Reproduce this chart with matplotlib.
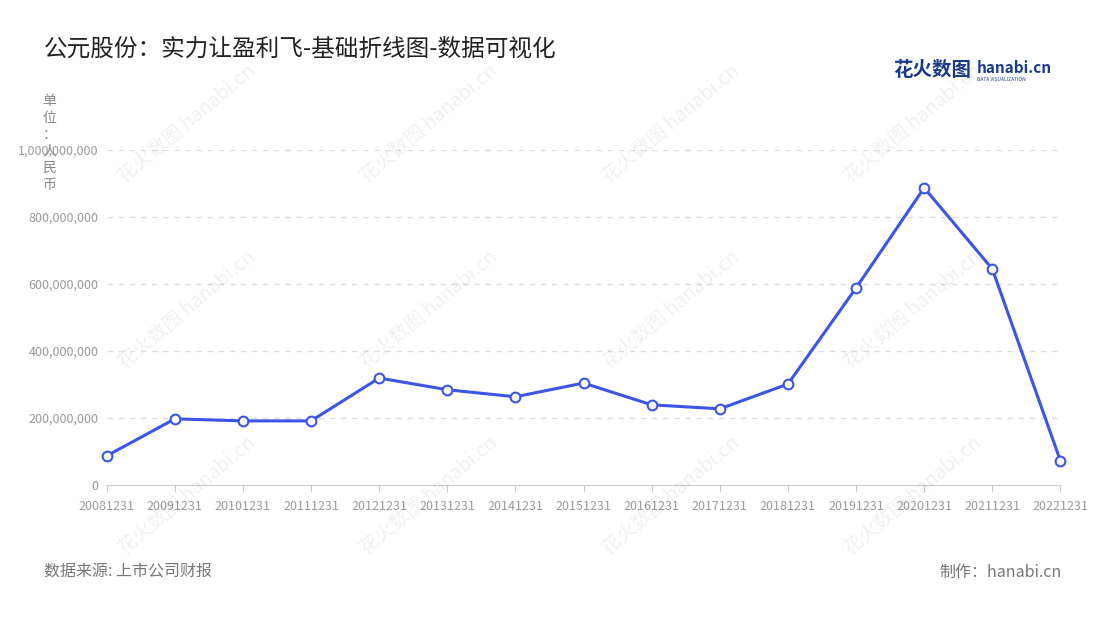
import matplotlib.pyplot as plt
from matplotlib.ticker import FuncFormatter

plt.rcParams['font.family'] = ['Noto Sans CJK SC', 'DejaVu Sans']

years = ['20081231', '20091231', '20101231', '20111231', '20121231', '20131231',
         '20141231', '20151231', '20161231', '20171231', '20181231', '20191231',
         '20201231', '20211231', '20221231']
profit = [86.6e6, 197e6, 191e6, 191e6, 319e6, 284e6, 263e6, 304e6, 239e6,
          227e6, 301e6, 588e6, 887e6, 645e6, 72e6]

fig = plt.figure(figsize=(11, 6.2), dpi=100)
ax = fig.add_axes([0.097, 0.218, 0.867, 0.54])
x = range(len(years))
ax.plot(x, profit, color='#3b55e6', linewidth=2.2, marker='o', markersize=7,
        markerfacecolor='white', markeredgecolor='#3b55e6', markeredgewidth=1.5,
        clip_on=False, zorder=3)
ax.set_xlim(0, len(years) - 1)
ax.set_ylim(0, 1e9)
ax.set_yticks([0, 2e8, 4e8, 6e8, 8e8, 1e9])
ax.yaxis.set_major_formatter(FuncFormatter(lambda v, p: f'{int(v):,}'))
ax.set_xticks(list(x))
ax.set_xticklabels(years)
ax.tick_params(axis='both', labelsize=9, colors='#999999', length=0, pad=6)
ax.tick_params(axis='x', length=5, color='#cccccc')
ax.grid(axis='y', linestyle=(0, (4, 4)), color='#dddddd', linewidth=1)
for s in ['top', 'right', 'left']:
    ax.spines[s].set_visible(False)
ax.spines['bottom'].set_color('#cccccc')

fig.text(0.04, 0.91, '公元股份：实力让盈利飞-基础折线图-数据可视化', fontsize=17, color='#222222')
fig.text(0.045, 0.848, '单\n位\n：\n人\n民\n币', fontsize=10, color='#888888',
         va='top', ha='center', linespacing=1.25)
fig.text(0.04, 0.07, '数据来源: 上市公司财报', fontsize=11.5, color='#777777')
fig.text(0.965, 0.07, '制作：hanabi.cn', fontsize=11.5, color='#777777', ha='right')
fig.text(0.812, 0.878, '花火数图', fontsize=14, color='#1a3a8a', fontweight='bold')
fig.text(0.888, 0.882, 'hanabi.cn', fontsize=11, color='#1a3a8a', fontweight='bold')
fig.text(0.888, 0.87, 'DATA VISUALIZATION', fontsize=3.5, color='#1a3a8a')

for wx in [0.17, 0.39, 0.61, 0.83]:
    for wy in [0.2, 0.5, 0.8]:
        fig.text(wx, wy, '花火数图 hanabi.cn', fontsize=14, color='#000000', alpha=0.06,
                 rotation=40, ha='center', va='center')

fig.savefig('out.png', dpi=100)
